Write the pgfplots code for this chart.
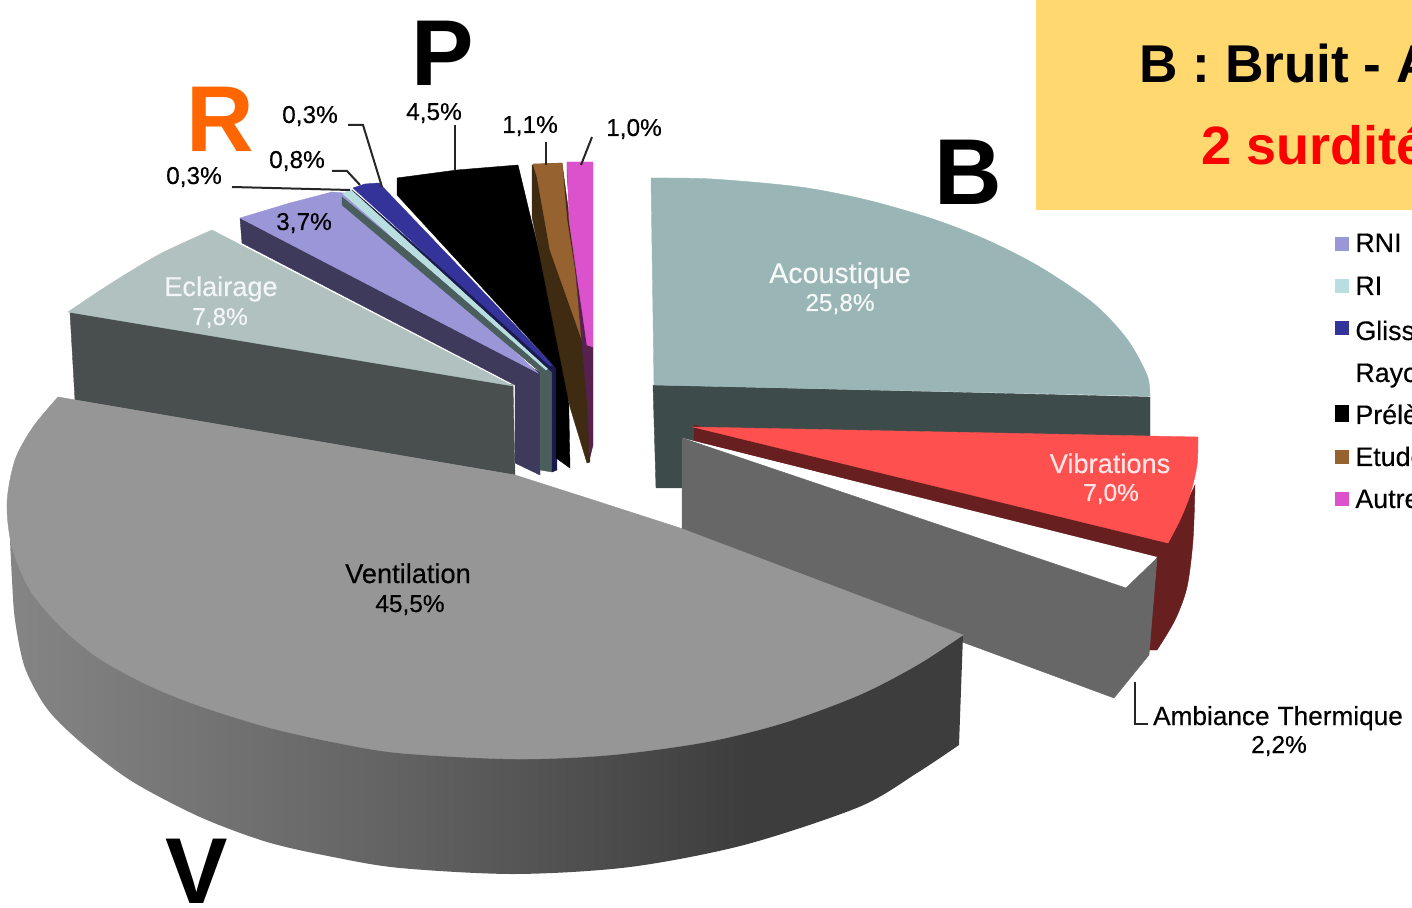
\documentclass[border=0pt]{standalone}
\usepackage{pgfplots}
\pgfplotsset{compat=1.18}
\usepackage{fontspec}
\setmainfont{Liberation Sans}
\definecolor{acoTop}{HTML}{99B5B6}
\definecolor{acoSide}{HTML}{3E4B4B}
\definecolor{vibTop}{HTML}{FF5050}
\definecolor{vibSide}{HTML}{681F1F}
\definecolor{ambSide}{HTML}{676767}
\definecolor{venTop}{HTML}{969696}
\definecolor{venA}{HTML}{858585}
\definecolor{venB}{HTML}{626262}
\definecolor{venC}{HTML}{3D3D3D}
\definecolor{ecTop}{HTML}{B1C1C0}
\definecolor{ecSide}{HTML}{494F4F}
\definecolor{rniTop}{HTML}{9B96D8}
\definecolor{rniSide}{HTML}{3E3A5C}
\definecolor{riTop}{HTML}{B8DEDF}
\definecolor{riSide}{HTML}{4B5E5E}
\definecolor{glTop}{HTML}{333399}
\definecolor{glSide}{HTML}{1A1A4D}
\definecolor{etTop}{HTML}{96622F}
\definecolor{etSide}{HTML}{3F2A12}
\definecolor{auTop}{HTML}{DC52CC}
\definecolor{auSide}{HTML}{56204F}
\definecolor{banner}{HTML}{FFD96F}
\definecolor{letterR}{HTML}{FF6600}
% rim of the large slice: lighter on the left, flat dark on the right
\pgfdeclarehorizontalshading{ventside}{100bp}{color(0bp)=(venA); color(25bp)=(venA); color(45.6bp)=(venB); color(63.7bp)=(venC); color(100bp)=(venC)}
\newcommand{\heavy}{\addfontfeature{FakeBold=0.35}}
\tikzset{
  face/.style={fill=#1,draw=#1,line width=.2pt},
  leader/.style={black!85,line width=1pt},
  lab/.style={anchor=base,inner sep=0pt,font=\fontsize{13.6pt}{16pt}\selectfont\heavy},
  pct/.style={anchor=base,inner sep=0pt,font=\fontsize{12.2pt}{16pt}\selectfont\heavy},
  leg/.style={anchor=base west,inner sep=0pt,font=\fontsize{13.4pt}{16pt}\selectfont\heavy},
  big/.style={anchor=base,inner sep=0pt,font=\fontsize{46.8pt}{50pt}\selectfont\bfseries},
  head/.style={anchor=base west,inner sep=0pt,font=\fontsize{26.6pt}{30pt}\selectfont\bfseries}
}
\begin{document}
\begin{tikzpicture}
\useasboundingbox (0,0) rectangle (706pt,454pt);
\clip (0,0) rectangle (706pt,454pt);
\begin{axis}[at={(0,0)},anchor=south west,scale only axis,width=706pt,height=454pt,
  xmin=0,xmax=1412,ymin=0,ymax=908,y dir=reverse,hide axis,clip=false]

% heading panel
\addplot[face=banner] coordinates {(1036,0)(1412,0)(1412,209.5)(1036,209.5)} -- cycle;

% Acoustique
\addplot[face=acoSide] coordinates {(653,385)(1150,397)(1150,445)(683,445)(683,488)(656,488)} -- cycle;
\addplot[face=acoTop,smooth] coordinates {(651,178)(712,179)(800,187)(867,200)(933,219)(987,240)(1040,267)(1093,303)(1127,339)(1147,375)(1150,396)} -- (axis cs:654,385) -- cycle;

% Vibrations
\addplot[face=vibSide,smooth] coordinates {(1195,485)(1193,540)(1187,587)(1175,620)(1157,650)} -- (axis cs:1149,650) -- (axis cs:1157,558) -- (axis cs:694,441) -- (axis cs:694,425) -- (axis cs:1168,543) -- cycle;
\addplot[face=vibTop,smooth] coordinates {(1198,437)(1197,465)(1190,495)(1180,520)(1168,543)} -- (axis cs:693,427) -- cycle;

% Ambiance thermique
\addplot[fill=white,draw=none] coordinates {(694,441)(1157,557)(1126,588)(682,438)} -- cycle;
\addplot[face=ambSide] coordinates {(682,438)(1126,588)(1157,558)(1149,655)(1114,698)(965,643)(682,533)} -- cycle;

% Eclairage
\addplot[face=ecSide] coordinates {(70,312)(513,385)(515,475)(75,400)} -- cycle;
\addplot[face=ecTop,smooth] coordinates {(68,312)(110,284)(160,254)(212,230)} -- (axis cs:513,386) -- cycle;

% RNI
\addplot[face=rniSide] coordinates {(240,218)(540,372)(540,475)(515,463)(515,385)(242,243)} -- cycle;
\addplot[face=rniTop] coordinates {(240,218)(290,203)(332,192)(344,193)(538,373)} -- cycle;

% RI
\addplot[face=riSide] coordinates {(342,197)(342,205)(540,372)(540,470)(552,472)(552,370)} -- cycle;
\addplot[face=riTop] coordinates {(343,194)(350,189)(550,367)(546,370)} -- cycle;

% Glissements
\addplot[face=glSide] coordinates {(352,190)(552,372)(552,472)(557,470)(556,368)} -- cycle;
\addplot[face=glTop] coordinates {(353,188)(365,184)(379,183)(553,365)(550,366)} -- cycle;

% Prelevements
\addplot[face=black] coordinates {(397,178)(457,170)(518,165)(530,215)(568,365)(570,468)(556,458)(556,368)(397,195)} -- cycle;

% Etudes
\addplot[face=etSide] coordinates {(532,165)(532,217)(570,407)(587,463)(590,462)(587,347)(562,163)} -- cycle;
\addplot[face=etTop] coordinates {(533,164)(562,163)(567,220)(587,347)(583,343)(550,250)(537,177)} -- cycle;

% Autres
\addplot[face=auSide] coordinates {(567,175)(587,400)(590,457)(593,445)(593,347)(567,162)} -- cycle;
\addplot[face=auTop] coordinates {(567,162)(593,162)(593,347)(587,345)(569,220)} -- cycle;

% Ventilation
\addplot[draw=none,smooth,shade,shading=ventside] coordinates {(10,540)(12,580)(15,620)(25,668)(48,710)(85,746)(133,782)(200,817)(267,842)(333,857)(400,868)(515,874)(630,867)(744,845)(859,807)(917,773)(959,745)} -- (axis cs:963,635) -- (axis cs:500,600) -- cycle;
\addplot[face=venTop,smooth] coordinates {(963,635)(917,665)(859,695)(783,723)(706,742)(610,755)(515,759)(400,753)(333,742)(267,727)(200,706)(150,686)(100,659)(62,628)(30,590)(12,547)(7,503)(15,460)(33,427)(58,397)} -- (axis cs:515,475) -- (axis cs:587,498) -- (axis cs:680,528) -- cycle;

% leader lines
\addplot[leader] coordinates {(232,187)(350,190)};
\addplot[leader] coordinates {(332,171)(347,171)(360,185)};
\addplot[leader] coordinates {(348,125)(363,125)(382,187)};
\addplot[leader] coordinates {(455,125)(455,170)};
\addplot[leader] coordinates {(546,142)(546,165)};
\addplot[leader] coordinates {(592,137)(581,165)};
\addplot[leader] coordinates {(1135,682)(1135,724)(1148,724)};

% legend swatches
\addplot[face=rniTop] coordinates {(1335,237)(1348,237)(1348,250)(1335,250)} -- cycle;
\addplot[face=riTop] coordinates {(1335,279)(1348,279)(1348,292)(1335,292)} -- cycle;
\addplot[face=glTop] coordinates {(1335,321)(1348,321)(1348,334)(1335,334)} -- cycle;
\addplot[face=black] coordinates {(1335,405)(1348,405)(1348,421)(1335,421)} -- cycle;
\addplot[face=etTop] coordinates {(1335,450)(1348,450)(1348,463)(1335,463)} -- cycle;
\addplot[face=auTop] coordinates {(1335,492)(1348,492)(1348,505)(1335,505)} -- cycle;

% legend text
\node[leg] at (axis cs:1355,252) {RNI};
\node[leg] at (axis cs:1355,295) {RI};
\node[leg] at (axis cs:1355,340) {Glissements};
\node[leg] at (axis cs:1355,382) {Rayonnement};
\node[leg] at (axis cs:1355,424) {Prélèvements};
\node[leg] at (axis cs:1355,466) {Etudes};
\node[leg] at (axis cs:1355,508) {Autres};

% slice labels
\node[lab,text=white!92!acoTop,font=\fontsize{14.3pt}{16pt}\selectfont\heavy] at (axis cs:840,283) {Acoustique};
\node[pct,text=white!92!acoTop] at (axis cs:840,311) {25,8\%};
\node[lab,text=white!85!vibTop] at (axis cs:1110,473) {Vibrations};
\node[pct,text=white!85!vibTop] at (axis cs:1111,501) {7,0\%};
\node[lab,text=white!85!ecTop] at (axis cs:221,296) {Eclairage};
\node[pct,text=white!85!ecTop] at (axis cs:220,325) {7,8\%};
\node[lab] at (axis cs:408,583) {Ventilation};
\node[pct] at (axis cs:410,612) {45,5\%};
\node[lab,font=\fontsize{13.1pt}{16pt}\selectfont\heavy] at (axis cs:1278,725) {Ambiance\hspace{4pt}Thermique};
\node[pct] at (axis cs:1279,753) {2,2\%};
\node[pct] at (axis cs:304,230) {3,7\%};
\node[pct] at (axis cs:194,184) {0,3\%};
\node[pct] at (axis cs:297,168) {0,8\%};
\node[pct] at (axis cs:310,123) {0,3\%};
\node[pct] at (axis cs:434,120) {4,5\%};
\node[pct] at (axis cs:530,133) {1,1\%};
\node[pct] at (axis cs:634,136) {1,0\%};

% group letters
\node[big] at (axis cs:443,86) {P};
\node[big,text=letterR] at (axis cs:220,152) {R};
\node[big] at (axis cs:968,205) {B};
\node[big] at (axis cs:197,903) {V};

% heading text
\node[head] at (axis cs:1139,83) {B : Bruit - Acoustique};
\node[head,text=red,font=\fontsize{27pt}{30pt}\selectfont\bfseries] at (axis cs:1201,165) {2 surdités};
\end{axis}
\end{tikzpicture}
\end{document}
